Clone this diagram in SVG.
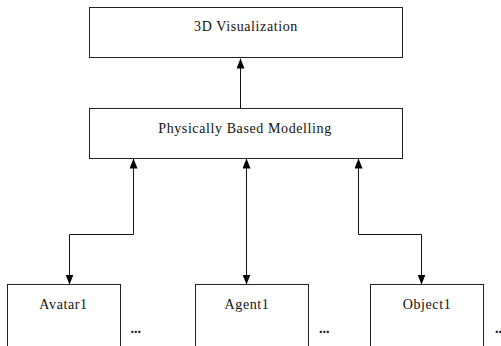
<svg xmlns="http://www.w3.org/2000/svg" width="501" height="346" viewBox="0 0 501 346">
<style>
.box{fill:#fff;stroke:#222;stroke-width:1}
.t{font-family:"Liberation Serif","Times New Roman",serif;font-size:14px;letter-spacing:0.6px;fill:#111;text-anchor:middle}
.d{font-family:"Liberation Serif","Times New Roman",serif;font-size:14px;font-weight:bold;fill:#111;text-anchor:start}
.c{fill:none;stroke:#111;stroke-width:1}
</style>
<defs>
<marker id="ah" markerUnits="userSpaceOnUse" markerWidth="10" markerHeight="8" refX="10" refY="4" orient="auto-start-reverse" viewBox="0 0 10 8">
<path d="M0,0 L10,4 L0,8 Z" fill="#000"/>
</marker>
</defs>
<rect width="501" height="346" fill="#fff"/>
<g id="connectors">
<path class="c" d="M240.5,108.5 V58.5" marker-end="url(#ah)"/>
<path class="c" d="M133.5,158.5 V234.5 H69.5 V284.5" marker-start="url(#ah)" marker-end="url(#ah)"/>
<path class="c" d="M246.5,158.5 V284.5" marker-start="url(#ah)" marker-end="url(#ah)"/>
<path class="c" d="M358.5,158.5 V234.5 H421.5 V284.5" marker-start="url(#ah)" marker-end="url(#ah)"/>
</g>
<g id="vis">
<rect class="box" x="89.5" y="7.5" width="313" height="50"/>
<text class="t" x="246" y="31">3D Visualization</text>
</g>
<g id="pbm">
<rect class="box" x="89.5" y="108.5" width="313" height="50"/>
<text class="t" x="245" y="133">Physically Based Modelling</text>
</g>
<g id="avatar">
<rect class="box" x="7.5" y="284.5" width="113" height="70"/>
<text class="t" x="63.5" y="308.5">Avatar1</text>
</g>
<g id="agent">
<rect class="box" x="195.5" y="284.5" width="113" height="70"/>
<text class="t" x="247" y="308.5">Agent1</text>
</g>
<g id="object">
<rect class="box" x="370.5" y="284.5" width="113" height="70"/>
<text class="t" x="427" y="308.5">Object1</text>
</g>
<g id="dots">
<text class="d" x="130.5" y="333">...</text>
<text class="d" x="319" y="333">...</text>
<text class="d" x="495" y="333">...</text>
</g>
</svg>
